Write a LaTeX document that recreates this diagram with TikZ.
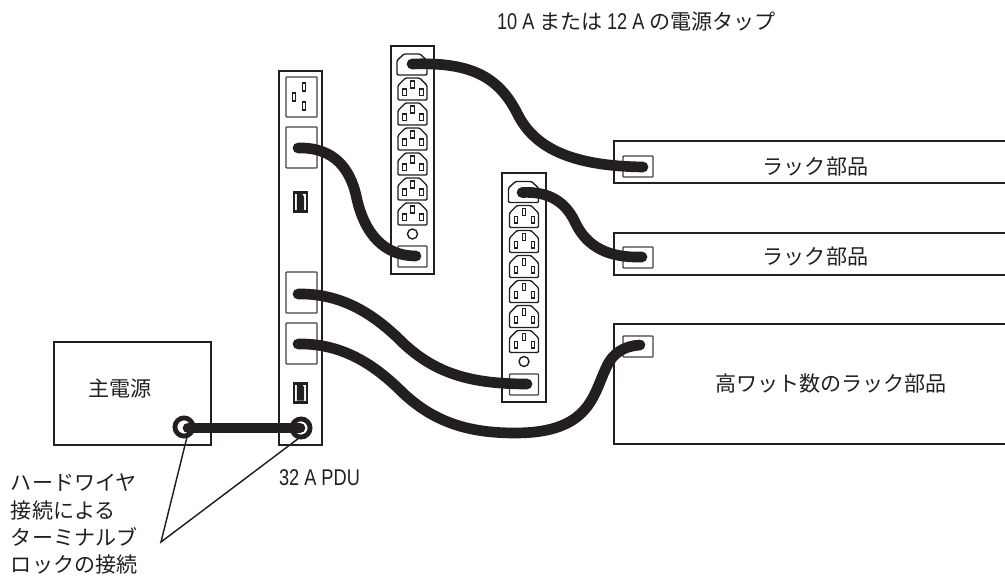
\documentclass[tikz,border=0pt]{standalone}
\usepackage{fontspec}
\setmainfont{Noto Sans CJK JP}
\newfontfamily\lat[FakeStretch=0.8,Scale=1.08]{Liberation Sans}
\definecolor{ink}{HTML}{231F20}
\newcommand\bx[6]{%
  \pgfmathsetmacro\bxw{(#4-#2)*0.75}\pgfmathsetmacro\bxh{(#5-#3)*0.75}%
  \node[#6,minimum width=\bxw pt,minimum height=\bxh pt] (#1) at ({(#2+#4)/2},{(#3+#5)/2}) {};}
\newcommand\txt[4]{\node[lbl,#4] (#1) at (#2) {#3};}
\tikzset{
  x=0.75pt,y=-0.75pt,
  base/.style={inner sep=0pt,outer sep=0pt,rectangle},
  frame/.style={base,draw=ink,line width=2.2pt,fill=white},
  inner box/.style={base,draw=ink!85,line width=1pt,fill=white,rounded corners=0.6pt},
  pin/.style={base,draw=ink,line width=0.8pt,fill=white},
  cable/.style={draw=ink,line width=8pt,line cap=round},
  lead/.style={draw=ink,line width=1.1pt},
  ring/.style={circle,draw=ink,line width=3.6pt,fill=white,minimum size=13.6pt,inner sep=0pt},
  lbl/.style={inner sep=0pt,outer sep=0pt,font=\fontsize{15.8pt}{20pt}\selectfont,text=ink},
  shell/.style={draw=ink,line width=1.05pt,fill=white,line join=round,rounded corners=0.9pt},
  outlet/.pic={
    \path[shell] (-14.5,11) -- (-14.5,-3.5) -- (-7,-11) -- (7,-11) -- (14.5,-3.5) -- (14.5,11) -- cycle;
    \bx{-pa}{-9.8}{0}{-6.2}{6.5}{pin}
    \bx{-pb}{-1.8}{-8}{1.8}{-1}{pin}
    \bx{-pc}{7.2}{0}{10.8}{6.5}{pin}
  },
  inlet/.pic={
    \path[shell] (-15,10.5) -- (-15,-4) -- (-8,-10.5) -- (8,-10.5) -- (15,-4) -- (15,10.5) -- cycle;
  },
  switchgear/.pic={
    \fill[ink] (-7.5,-11) rectangle (7.5,11);
    \fill[white] (-5.2,-8) rectangle (5.2,8);
    \fill[ink] (-3.6,-8) -- (1.8,-8) -- (3.6,-5) -- (3.6,8) -- (-3.6,8) -- cycle;
  },
  strip/.pic={
    \pic at (21,18.5) {inlet};
    \foreach \k in {0,...,5}{\pic at (21.5,{43+25*\k}) {outlet};}
    \draw[ink,line width=1.05pt] (21.5,188) circle[radius=5];
  }
}
\begin{document}
\begin{tikzpicture}
\useasboundingbox (0,0) rectangle (1005,577);
\clip (0,0) rectangle (1005,577);

% main power
\bx{mains}{54}{342}{211}{445}{frame}
\txt{mainslabel}{120,389}{主電源}{}

% PDU
\bx{pdu}{279}{71}{322}{445}{frame}
\bx{pdutop}{286}{77}{317}{117}{inner box}
\bx{pdupina}{302.2}{83}{305.8}{91}{pin}
\bx{pdupinb}{292.2}{93}{295.8}{101}{pin}
\bx{pdupinc}{302.2}{102}{305.8}{110}{pin}
\bx{pdub}{286}{127}{317}{168}{inner box}
\bx{pduc}{286}{272}{317}{313}{inner box}
\bx{pdud}{286}{323}{317}{364}{inner box}
\pic at (300.5,202) {switchgear};
\pic at (300.5,392.5) {switchgear};

% strips
\bx{stripa}{391}{46}{434}{274}{frame}
\pic at (391,46) {strip};
\bx{stripaout}{398}{246}{427}{267}{inner box}
\bx{stripb}{502}{173}{546}{402}{frame}
\pic at (502.5,173.5) {strip};
\bx{stripbout}{509.5}{374}{538.5}{395}{inner box}

% rack components (they run off the right edge)
\bx{racka}{614}{141}{1030}{183}{frame}
\bx{rackb}{614}{233}{1030}{275}{frame}
\bx{rackc}{614}{324}{1030}{444}{frame}
\bx{rackain}{623}{156}{653}{177}{inner box}
\bx{rackbin}{623}{247}{653}{268}{inner box}
\bx{rackcin}{623}{336}{653}{357}{inner box}
\txt{rackalabel}{815.5,167}{ラック部品}{}
\txt{rackblabel}{815.5,257}{ラック部品}{}
\txt{rackclabel}{831,384}{高ワット数のラック部品}{}

% texts
\txt{striplabel}{497,22}{{\lat 10 A} または {\lat 12 A} の電源タップ}{anchor=west}
\txt{pdulabel}{279,478}{\lat 32 A PDU}{anchor=west}
\txt{hw1}{11,483}{ハードワイヤ}{anchor=west}
\txt{hw2}{11,510}{接続による}{anchor=west}
\txt{hw3}{11,537}{ターミナルブ}{anchor=west}
\txt{hw4}{11,564}{ロックの接続}{anchor=west}

% terminal rings
\node[ring] (ringa) at (184,427) {};
\node[ring] (ringb) at (301,428) {};

% cable end points
\coordinate (e1) at (412,64);
\coordinate (e2) at (643,167);
\coordinate (e3) at (298,148);
\coordinate (e4) at (416,256);
\coordinate (e5) at (522,192.5);
\coordinate (e6) at (642,257);
\coordinate (e7) at (298,294);
\coordinate (e8) at (527,384);
\coordinate (e9) at (298,344);
\coordinate (e10) at (640,345);
\coordinate (e11) at (188,428);
\coordinate (e12) at (300,428);

\draw[cable] (e1) .. controls (470,62) and (498,76) .. (517,113) .. controls (535,150) and (575,166) .. (e2);
\draw[cable] (e3) .. controls (335,147) and (350,170) .. (356,195) .. controls (364,235) and (385,256) .. (e4);
\draw[cable] (e5) .. controls (550,191) and (566,203) .. (575,222) .. controls (587,248) and (610,258) .. (e6);
\draw[cable] (e7) .. controls (345,293) and (378,318) .. (403,343) .. controls (435,373) and (470,384) .. (e8);
\draw[cable] (e9) .. controls (345,343) and (378,368) .. (403,393) .. controls (435,423) and (470,433) .. (515,433) .. controls (590,433) and (593,395) .. (606,368) .. controls (613,352) and (625,346) .. (e10);
\draw[cable] (e11) -- (e12);

% leaders
\coordinate (apex) at (161,542);
\coordinate (la) at (187.5,435);
\coordinate (lb) at (303,435);
\draw[lead] (la) -- (apex) -- (lb);
\end{tikzpicture}
\end{document}
